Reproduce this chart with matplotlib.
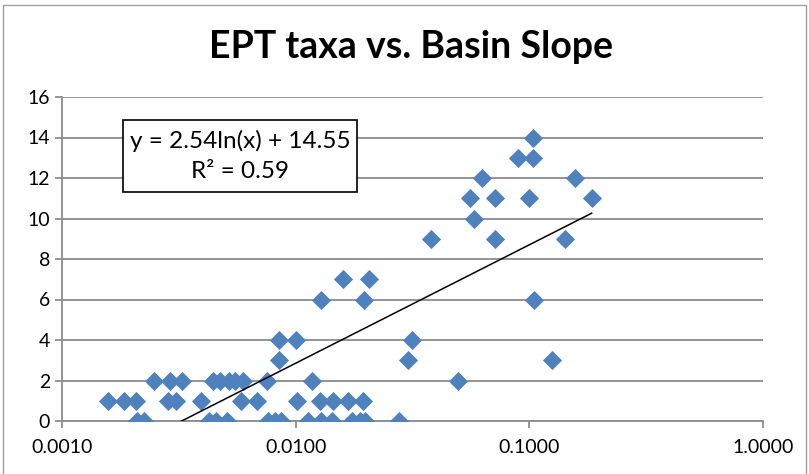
import numpy as np
import matplotlib.pyplot as plt
from matplotlib.patches import Rectangle

# basin slope (m/m) and EPT taxa count per site
slope = [0.00209, 0.00224, 0.00424, 0.00455, 0.00507, 0.00759, 0.00813, 0.00863,
         0.01125, 0.0128, 0.0143, 0.0175, 0.0188, 0.0199, 0.0276,
         0.00157, 0.00184, 0.00207, 0.00283, 0.00307, 0.00392, 0.00582, 0.00681,
         0.0101, 0.0127, 0.0145, 0.0167, 0.0194,
         0.00247, 0.00289, 0.00325, 0.00441, 0.00473, 0.00517, 0.00548, 0.00593,
         0.00751, 0.0118, 0.0494,
         0.00846, 0.0304, 0.1246,
         0.00846, 0.0100, 0.0314,
         0.0128, 0.0197, 0.1043,
         0.0159, 0.0207,
         0.0378, 0.0710, 0.1416,
         0.0578,
         0.0555, 0.0710, 0.0993, 0.1848,
         0.0625, 0.1562,
         0.0891, 0.1033,
         0.1033]
ept = [0] * 15 + [1] * 13 + [2] * 11 + [3] * 3 + [4] * 3 + [6] * 3 + [7] * 2 \
    + [9] * 3 + [10] + [11] * 4 + [12] * 2 + [13] * 2 + [14]

# logarithmic trend from the fitted equation
a, b = 2.54, 14.55
r2 = 0.59

font = 'Lato'
plt.rcParams['font.family'] = [font, 'DejaVu Sans']

fig = plt.figure(figsize=(8.09, 4.74), dpi=100)
ax = fig.add_axes([62 / 809, 1 - 421 / 474, 701 / 809, 324 / 474])

ax.scatter(slope, ept, marker='D', s=95, color='#4F81BD', zorder=3, linewidths=0)

xs = np.logspace(np.log10(min(slope)), np.log10(max(slope)), 200)
ax.plot(xs, a * np.log(xs) + b, color='black', lw=1.1, zorder=4)

ax.set_xscale('log')
ax.set_xlim(0.001, 1)
ax.set_ylim(0, 16)
ax.set_yticks(range(0, 17, 2))
ax.set_xticks([0.001, 0.01, 0.1, 1])
ax.set_xticklabels(['0.0010', '0.0100', '0.1000', '1.0000'])
ax.minorticks_off()
ax.grid(axis='y', color='#8c8c8c', lw=1.3)
ax.set_axisbelow(True)
for s in ['top', 'right']:
    ax.spines[s].set_visible(False)
for s in ['left', 'bottom']:
    ax.spines[s].set_color('#8c8c8c')
    ax.spines[s].set_linewidth(1.3)
ax.tick_params(axis='both', colors='#8c8c8c', length=5, width=1.3,
               labelsize=14, labelcolor='black')
ax.tick_params(axis='x', pad=8)

fig.text(0.508, 0.90, 'EPT taxa vs. Basin Slope', ha='center', va='center',
         fontsize=27, fontweight='bold')

# equation box
fig.patches.append(Rectangle((123 / 809, 1 - 192 / 474), 234 / 809, 72 / 474,
                             transform=fig.transFigure, facecolor='white',
                             edgecolor='black', lw=1.2, zorder=5))
fig.text(240 / 809, 1 - 141 / 474, f'y = {a:.2f}ln(x) + {b:.2f}', ha='center',
         va='center', fontsize=17.5, zorder=6)
fig.text(240 / 809, 1 - 172 / 474, f'R² = {r2:.2f}', ha='center', va='center',
         fontsize=17.5, zorder=6)

# chart frame
fig.patches.append(Rectangle((3 / 809, -0.01), 803 / 809, 1 - 5 / 474 + 0.01,
                             transform=fig.transFigure, facecolor='none',
                             edgecolor='#a0a0a0', lw=1.0))

fig.savefig('out.png', dpi=100)
